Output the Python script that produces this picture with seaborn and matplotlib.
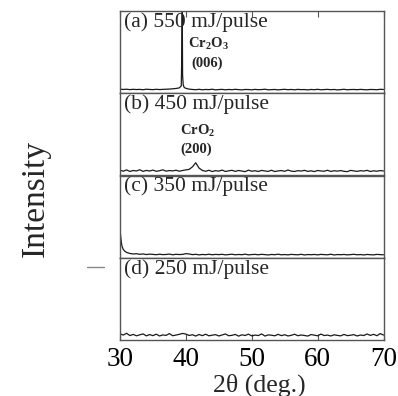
import numpy as np
import pandas as pd
import matplotlib
matplotlib.use("Agg")
import matplotlib.pyplot as plt
from matplotlib.lines import Line2D
import seaborn as sns

# ---------------- data ----------------
two_theta = np.arange(30.0, 70.01, 0.5)  # 81 sampling points

labels = ["(a) 550 mJ/pulse", "(b) 450 mJ/pulse", "(c) 350 mJ/pulse", "(d) 250 mJ/pulse"]

int_a = [5.0, 4.6, 4.9, 4.4, 4.8, 4.5, 4.7, 4.3, 4.9, 4.6, 4.4, 4.8, 4.5, 4.7, 4.9, 5.1, 5.4, 5.8,
         6.5, 22.0, 6.0,
         5.0, 4.6, 4.3, 4.8, 4.2, 4.6, 4.4, 4.9, 4.1, 4.5,
         4.7, 4.2, 4.6, 4.3, 4.8, 4.4, 4.1, 4.6, 4.5, 4.2,
         4.7, 4.3, 4.5, 4.9, 4.2, 4.4, 4.6, 4.1, 4.5, 4.8,
         4.3, 4.6, 4.2, 4.7, 4.4, 4.5, 4.1, 4.6, 4.3, 4.8,
         4.2, 4.5, 4.7, 4.3, 4.6, 4.1, 4.4, 4.8, 4.2, 4.5,
         4.6, 4.3, 4.7, 4.4, 4.2, 4.6, 4.5, 4.3, 4.8, 4.6]
peak_a_x = [39.3, 39.38, 39.45, 39.6, 39.75]
peak_a_y = [9.0, 45.0, 103.0, 10.0, 7.0]

int_b = [6.5, 5.2, 6.8, 4.9, 6.1, 5.5, 7.0, 5.0, 6.2, 5.4, 6.6, 5.1, 5.8, 6.9, 5.3, 6.0, 5.6, 6.4,
         5.2, 6.1, 6.8, 7.5,
         10.5, 15.5, 9.0,
         6.2, 5.1, 6.4, 4.8, 5.9, 5.3, 6.6, 4.9, 5.7, 6.3,
         5.0, 6.1, 5.4, 4.7, 6.5, 5.2, 5.8, 4.9, 6.2, 5.5,
         5.0, 6.4, 4.8, 5.6, 6.0, 5.1, 6.7, 5.3, 4.9, 5.9,
         5.4, 6.3, 5.0, 5.7, 4.8, 6.1, 5.5, 5.2, 6.4, 4.9,
         5.8, 5.3, 6.0, 5.1, 4.7, 6.2, 5.6, 5.0, 5.9, 5.4,
         6.3, 4.9, 5.7, 5.2, 6.0, 5.5]

int_c = [35.0, 10.0, 6.5, 5.2, 4.6, 4.9, 4.2, 4.6, 3.9, 4.4,
         4.1, 3.7, 4.3, 3.8, 4.0, 4.5, 3.6, 4.2, 3.9, 4.1,
         5.0, 4.6, 3.8, 4.2, 3.5, 4.0, 3.7, 4.3, 3.6, 4.1,
         3.8, 4.2, 3.5, 3.9, 4.3, 3.6, 4.0, 3.7, 4.4, 3.5,
         3.9, 4.1, 3.6, 4.2, 3.8, 3.4, 4.0, 3.7, 4.3, 3.6,
         3.9, 3.5, 4.1, 3.8, 3.6, 4.2, 3.4, 3.9, 3.7, 4.0,
         3.5, 4.1, 3.8, 3.6, 4.3, 3.4, 3.9, 3.7, 4.0, 3.5,
         3.8, 4.2, 3.6, 3.9, 3.4, 4.0, 3.7, 3.5, 4.1, 3.8, 3.6]
rise_c_x = [30.1, 30.2, 30.3, 30.75]
rise_c_y = [26.0, 19.0, 14.0, 7.8]

int_d = [7.5, 6.0, 8.2, 5.4, 6.8, 5.1, 6.3, 7.4, 5.0, 6.6,
         5.3, 7.1, 4.9, 6.2, 5.6, 7.8, 5.2, 6.0, 6.9, 8.0,
         7.2, 5.5, 6.4, 4.8, 6.7, 5.3, 7.0, 5.1, 5.9, 6.5,
         4.9, 6.1, 7.3, 5.2, 5.7, 6.8, 4.7, 6.3, 5.5, 7.1,
         5.0, 6.0, 5.4, 7.4, 4.8, 6.2, 5.8, 5.1, 6.9, 5.3,
         6.4, 4.9, 5.7, 7.0, 5.2, 6.1, 5.5, 4.8, 6.6, 5.9,
         5.1, 7.2, 5.4, 6.0, 4.9, 6.3, 5.6, 5.0, 6.8, 5.3,
         5.8, 6.5, 4.9, 6.1, 5.4, 7.3, 5.6, 6.9, 5.2, 7.8,
         6.0]

xticks = [30, 40, 50, 60, 70]

# ---------------- build frames ----------------
def frame(x, y, extra_x=(), extra_y=()):
    df = pd.DataFrame({"x": list(x) + list(extra_x), "y": list(y) + list(extra_y)})
    return df.sort_values("x").reset_index(drop=True)

frames = [
    frame(two_theta, int_a, peak_a_x, peak_a_y),
    frame(two_theta, int_b),
    frame(two_theta, int_c, rise_c_x, rise_c_y),
    frame(two_theta, int_d),
]

# ---------------- style ----------------
sns.set_theme(style="white")
plt.rcParams["font.family"] = ["Liberation Serif", "DejaVu Serif"]
plt.rcParams["mathtext.fontset"] = "custom"
plt.rcParams["mathtext.rm"] = "Liberation Serif"
plt.rcParams["mathtext.bf"] = "Liberation Serif:bold"

fig = plt.figure(figsize=(3.98, 3.96), dpi=100)
gs = fig.add_gridspec(4, 1, left=120/398, right=383.5/398, top=1-11/396, bottom=1-340/396, hspace=0)
axes = [fig.add_subplot(gs[i, 0]) for i in range(4)]

for i, (ax, df, lab) in enumerate(zip(axes, frames, labels)):
    sns.lineplot(data=df, x="x", y="y", ax=ax, color="#1a1a1a", linewidth=0.9, estimator=None)
    ax.set_xlim(30, 70)
    ax.set_ylim(0, 100)
    ax.set_yticks([])
    ax.set_xlabel("")
    ax.set_ylabel("")
    for sp in ax.spines.values():
        sp.set_color("#555555")
        sp.set_linewidth(1.0)
    ax.text(0.015, 0.985, lab, transform=ax.transAxes, ha="left", va="top", fontsize=15.5)
    ax.set_xticks(xticks)
    if i == 3:
        ax.tick_params(axis="x", direction="in", length=4, width=0.8, labelsize=19.5, pad=5,
                       bottom=True, top=False, colors="#555555", labelcolor="black")
    elif i == 0:
        ax.tick_params(axis="x", direction="in", length=4, width=0.8, bottom=False, top=True,
                       labelbottom=False, colors="#555555")
    else:
        ax.tick_params(axis="x", bottom=False, top=False, labelbottom=False)

axes[0].text(40.3, 60, r"Cr$_\mathbf{2}$O$_\mathbf{3}$", fontsize=10.5, fontweight="bold",
             ha="left", va="center")
axes[0].text(40.8, 37, "(006)", fontsize=10.5, fontweight="bold", ha="left", va="center")
axes[1].text(39.1, 55, r"CrO$_\mathbf{2}$", fontsize=10.5, fontweight="bold", ha="left", va="center")
axes[1].text(39.1, 32, "(200)", fontsize=10.5, fontweight="bold", ha="left", va="center")

fig.text(35/398, 0.5, "Intensity", rotation=90, ha="center", va="center", fontsize=24)
fig.text(259.5/398, 1-385/396, "2θ (deg.)", ha="center", va="center", fontsize=18.5)

# small stray dash in the original scan
fig.add_artist(Line2D([87/398, 104/398], [1-267/396, 1-267/396], color="#888888", lw=1.0))

fig.savefig("out.png", dpi=100)
